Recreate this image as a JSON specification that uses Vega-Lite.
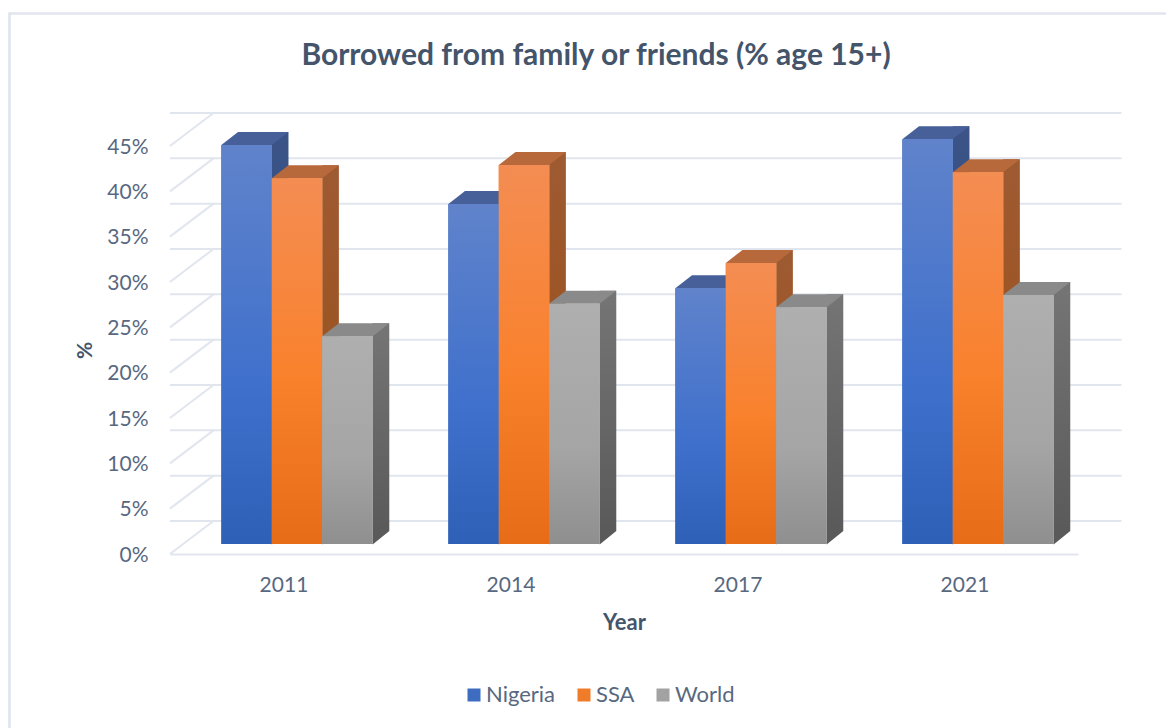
{
 "$schema":"https://vega.github.io/schema/vega-lite/v6.json",
 "width":908,"height":408,"autosize":"none",
 "padding":{"left":170,"top":146,"right":88,"bottom":174},
 "background":"white",
 "title":{"text":"Borrowed from family or friends (% age 15+)","font":"Lato","fontSize":30,"fontWeight":"bold","color":"#44546A","anchor":"middle","dx":-28,"offset":-63},
 "config":{"view":{"stroke":null},"font":"Lato"},
 "datasets":{
  "bars":[
   {"year":"2011","series":"Nigeria","value":44.0},{"year":"2011","series":"SSA","value":40.35},{"year":"2011","series":"World","value":22.9},
   {"year":"2014","series":"Nigeria","value":37.5},{"year":"2014","series":"SSA","value":41.8},{"year":"2014","series":"World","value":26.5},
   {"year":"2017","series":"Nigeria","value":28.2},{"year":"2017","series":"SSA","value":31.0},{"year":"2017","series":"World","value":26.1},
   {"year":"2021","series":"Nigeria","value":44.65},{"year":"2021","series":"SSA","value":41.0},{"year":"2021","series":"World","value":27.45}
  ],
  "ticks":[{"tick":0},{"tick":5},{"tick":10},{"tick":15},{"tick":20},{"tick":25},{"tick":30},{"tick":35},{"tick":40},{"tick":45}]
 },
 "encoding":{
  "x":{"field":"year","type":"nominal","scale":{"domain":["2011","2014","2017","2021"],"paddingInner":0.3333,"paddingOuter":0.1667,"align":0.678},
   "axis":{"title":"Year","titleFont":"Lato","titleFontSize":22,"titleFontWeight":"bold","titleColor":"#44546A","titlePadding":17,"labelFont":"Lato","labelFontSize":21,"labelColor":"#586880","labelAngle":0,"labelPadding":20,"labelOffset":-13,"ticks":false,"domain":true,"domainColor":"#E1E5EE","domainWidth":2,"grid":false}},
  "y":{"type":"quantitative","scale":{"domain":[0,45],"nice":false},
   "axis":{"values":[0,5,10,15,20,25,30,35,40,45],"labelExpr":"datum.value + '%'","labelOffset":1,"title":"%","titleFont":"Lato","titleFontSize":21,"titleFontWeight":"bold","titleColor":"#44546A","titlePadding":11,"labelFont":"Lato","labelFontSize":21,"labelColor":"#586880","labelPadding":22,"ticks":false,"domain":false,"grid":false}}
 },
 "layer":[
  {"data":{"values":[{"a":0}]},
   "mark":{"type":"point","filled":false,"stroke":"#E1E5EE","strokeWidth":2.7,"opacity":1,"size":4,"shape":"M-287.5,174 L-287.5,-540.5 L869,-540.5"},
   "encoding":{"x":{"datum":"2011"},"y":{"datum":0}}},
  {"data":{"name":"ticks"},
   "mark":{"type":"rule","stroke":"#E1E5EE","strokeWidth":2,"xOffset":43.5,"yOffset":-33},
   "encoding":{"x":null,"y":{"field":"tick","type":"quantitative"}}},
  {"data":{"name":"ticks"},
   "mark":{"type":"point","filled":false,"stroke":"#E1E5EE","strokeWidth":2,"opacity":1,"size":4,"shape":"M-127,0 L-83.5,-33"},
   "encoding":{"x":{"datum":"2011"},"y":{"field":"tick","type":"quantitative"}}},

  {"data":{"name":"bars"},"transform":[{"filter":"datum.series==='Nigeria'"}],
   "mark":{"type":"bar","width":16.7,"xOffset":-16.85,"yOffset":-23,"y2Offset":-23,"color":{"x1":0,"y1":0,"x2":0,"y2":1,"gradient":"linear","stops":[{"offset":0,"color":"#3C5487"},{"offset":1,"color":"#24477F"}]}},
   "encoding":{"y":{"field":"value","type":"quantitative"},"y2":{"datum":0}}},
  {"data":{"name":"bars"},"transform":[{"filter":"datum.series==='SSA'"}],
   "mark":{"type":"bar","width":16.7,"xOffset":33.55,"yOffset":-23,"y2Offset":-23,"color":{"x1":0,"y1":0,"x2":0,"y2":1,"gradient":"linear","stops":[{"offset":0,"color":"#9E5A32"},{"offset":1,"color":"#9A4F14"}]}},
   "encoding":{"y":{"field":"value","type":"quantitative"},"y2":{"datum":0}}},
  {"data":{"name":"bars"},"transform":[{"filter":"datum.series==='World'"}],
   "mark":{"type":"bar","width":16.7,"xOffset":83.95,"yOffset":-23,"y2Offset":-23,"color":{"x1":0,"y1":0,"x2":0,"y2":1,"gradient":"linear","stops":[{"offset":0,"color":"#757575"},{"offset":1,"color":"#5A5A5A"}]}},
   "encoding":{"y":{"field":"value","type":"quantitative"},"y2":{"datum":0}}},

  {"data":{"name":"bars"},
   "mark":{"type":"point","filled":true,"opacity":1,"size":4,"yOffset":-10,"shape":"M25.2,0.5 L41.9,-13 L25.2,-13 Z"},
   "encoding":{"xOffset":{"field":"series","type":"nominal","scale":{"domain":["Nigeria","SSA","World"],"paddingInner":0,"paddingOuter":0}},"y":{"datum":0},
    "color":{"field":"series","type":"nominal","legend":null,"scale":{"domain":["Nigeria","SSA","World"],"range":["#24477F","#9A4F14","#5A5A5A"]}}}},
  {"data":{"name":"bars"},
   "mark":{"type":"point","filled":true,"opacity":1,"size":4,"yOffset":-10,"shape":"M-25.2,0 L25.2,0 L41.9,-13 L-8.5,-13 Z"},
   "encoding":{"xOffset":{"field":"series","type":"nominal"},"y":{"field":"value","type":"quantitative"},
    "color":{"field":"series","type":"nominal","legend":null,"scale":{"domain":["Nigeria","SSA","World"],"range":["#47609A","#B8693B","#8A8A8A"]}}}},

  {"data":{"name":"bars"},
   "mark":{"type":"bar","yOffset":-10,"y2Offset":-10},
   "encoding":{"xOffset":{"field":"series","type":"nominal"},
    "y":{"field":"value","type":"quantitative"},"y2":{"datum":0},
    "color":{"field":"series","type":"nominal","scale":{"domain":["Nigeria","SSA","World"],"range":["#3D6CC0","#F07B28","#A2A2A2"]},
    "legend":{"title":null,"orient":"none","legendX":293,"legendY":538,"direction":"horizontal","symbolType":"square","symbolSize":169,"symbolStrokeWidth":0,"labelFont":"Lato","labelFontSize":22,"labelColor":"#586880","columnPadding":17,"labelOffset":1}}}},

  {"data":{"name":"bars"},"transform":[{"filter":"datum.series==='Nigeria'"}],
   "mark":{"type":"bar","width":50.4,"xOffset":-50.4,"yOffset":-10,"y2Offset":-10,"color":{"x1":0,"y1":0,"x2":0,"y2":1,"gradient":"linear","stops":[{"offset":0,"color":"#6083CB"},{"offset":0.6,"color":"#3F70CC"},{"offset":1,"color":"#2F60B7"}]}},
   "encoding":{"y":{"field":"value","type":"quantitative"},"y2":{"datum":0}}},
  {"data":{"name":"bars"},"transform":[{"filter":"datum.series==='SSA'"}],
   "mark":{"type":"bar","width":50.4,"yOffset":-10,"y2Offset":-10,"color":{"x1":0,"y1":0,"x2":0,"y2":1,"gradient":"linear","stops":[{"offset":0,"color":"#F48D53"},{"offset":0.55,"color":"#F9812C"},{"offset":1,"color":"#E76C17"}]}},
   "encoding":{"y":{"field":"value","type":"quantitative"},"y2":{"datum":0}}},
  {"data":{"name":"bars"},"transform":[{"filter":"datum.series==='World'"}],
   "mark":{"type":"bar","width":50.4,"xOffset":50.4,"yOffset":-10,"y2Offset":-10,"color":{"x1":0,"y1":0,"x2":0,"y2":1,"gradient":"linear","stops":[{"offset":0,"color":"#AFAFAF"},{"offset":0.6,"color":"#A5A5A5"},{"offset":1,"color":"#8F8F8F"}]}},
   "encoding":{"y":{"field":"value","type":"quantitative"},"y2":{"datum":0}}}
 ],
 "resolve":{"scale":{"color":"independent"}}
}
